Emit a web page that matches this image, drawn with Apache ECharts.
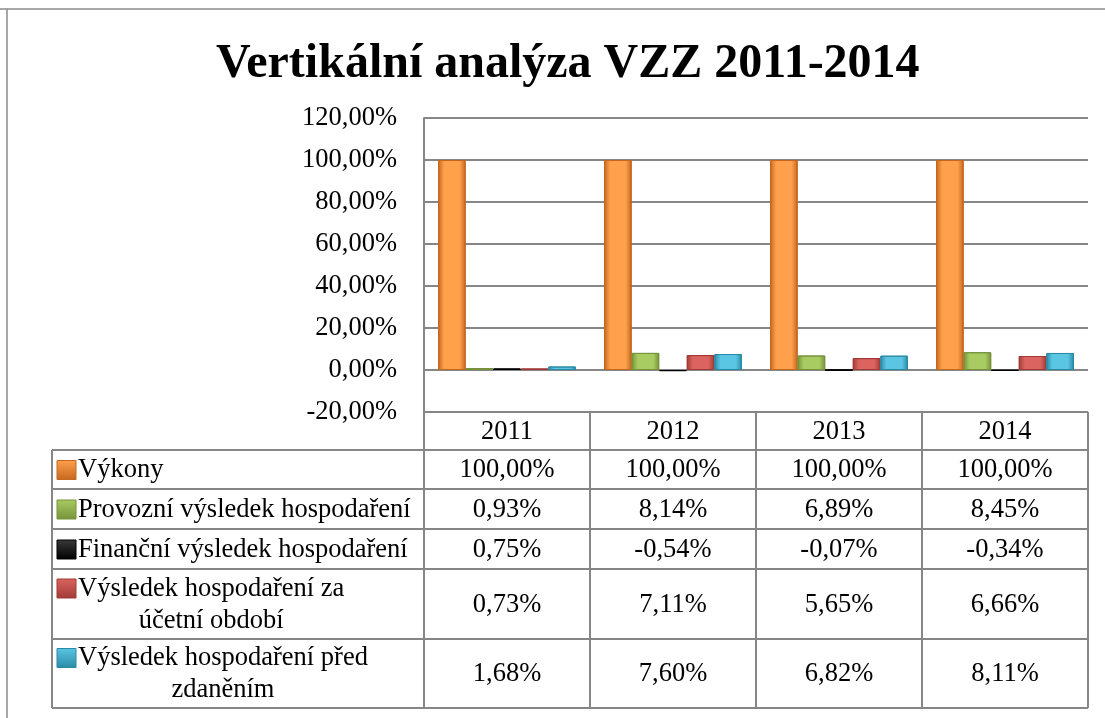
<!DOCTYPE html>
<html>
<head>
<meta charset="utf-8">
<script src="https://cdn.jsdelivr.net/npm/echarts@6/dist/echarts.min.js"></script>
<style>
	html, body { margin: 0; padding: 0; background: #fff; }
	#myChart { width: 1105px; height: 718px; }
</style>
</head>
<body>
<div id="myChart"></div>
<script>
// data
const years = ["2011", "2012", "2013", "2014"];
const seriesNames = [
	"Výkony",
	"Provozní výsledek hospodaření",
	"Finanční výsledek hospodaření",
	"Výsledek hospodaření za účetní období",
	"Výsledek hospodaření před zdaněním",
];
// how the names wrap in the data table
const rowLabels = [
	["Výkony"],
	["Provozní výsledek hospodaření"],
	["Finanční výsledek hospodaření"],
	["Výsledek hospodaření za", "účetní období"],
	["Výsledek hospodaření před", "zdaněním"],
];
const vykony = [100, 100, 100, 100];
const provozni = [0.93, 8.14, 6.89, 8.45];
const financni = [0.75, -0.54, -0.07, -0.34];
const vhObdobi = [0.73, 7.11, 5.65, 6.66];
const vhPredZdanenim = [1.68, 7.6, 6.82, 8.11];
const yMin = -20;
const yMax = 120;
const yStep = 20;

const values = [vykony, provozni, financni, vhObdobi, vhPredZdanenim];
// edge / middle colours for the bevelled bars
const colors = [
	["#c4681f", "#ffa04c"],
	["#76923a", "#a9cc62"],
	["#000000", "#3a3a3a"],
	["#a03a37", "#dc6460"],
	["#2b8aa6", "#5ac6e4"],
];

const fmt = (v) => v.toFixed(2).replace(".", ",") + "%";
const serif = "Liberation Serif";
const lineColor = "#868686";

// layout
const gridLeft = 424;
const gridRight = 1088;
const gridTop = 118;
const gridBottom = 412;
const tableLeft = 52;
const rowLines = [450, 489, 529, 569, 639, 708];

function bevel(c) {
	return new echarts.graphic.LinearGradient(0, 0, 1, 0, [
		{ offset: 0, color: c[0] },
		{ offset: 0.22, color: c[1] },
		{ offset: 0.78, color: c[1] },
		{ offset: 1, color: c[0] },
	]);
}

let myChart = echarts.init(document.getElementById("myChart"));

myChart.setOption({
	animation: false,
	title: {
		text: "Vertikální analýza VZZ 2011-2014",
		left: 211,
		top: 36,
		textStyle: {
			fontFamily: serif,
			fontWeight: "bold",
			fontSize: 48,
			color: "#000",
		},
	},
	grid: {
		left: gridLeft,
		right: 1105 - gridRight,
		top: gridTop,
		bottom: 718 - gridBottom,
		outerBoundsMode: "none",
	},
	xAxis: {
		type: "category",
		data: years,
		axisLine: { show: false },
		axisTick: { show: false },
		axisLabel: { show: false },
	},
	yAxis: {
		type: "value",
		min: yMin,
		max: yMax,
		interval: yStep,
		axisLine: { show: true, lineStyle: { color: lineColor, width: 2 } },
		axisTick: { show: false },
		axisLabel: {
			formatter: (v) => fmt(v),
			fontFamily: serif,
			fontSize: 26.5,
			color: "#000",
			margin: 27,
		},
		splitLine: { lineStyle: { color: lineColor, width: 2 } },
	},
	series: seriesNames.map((name, i) => ({
		name: name,
		type: "bar",
		data: values[i],
		barGap: "0%",
		barCategoryGap: "17%",
		itemStyle: {
			color: bevel(colors[i]),
			borderColor: colors[i][0],
			borderWidth: 1,
		},
		emphasis: { disabled: true },
	})),
});

// data table under the plot
const ctx = document.createElement("canvas").getContext("2d");
const font = "26.5px '" + serif + "'";
ctx.font = font;

const colW = (gridRight - gridLeft) / years.length;
const els = [];
const line = (x1, y1, x2, y2, color, w) =>
	els.push({
		type: "line",
		shape: { x1: x1, y1: y1, x2: x2, y2: y2 },
		style: { stroke: color || lineColor, lineWidth: w || 2 },
		silent: true,
	});
const text = (str, x, y, align) =>
	els.push({
		type: "text",
		style: {
			text: str,
			x: x,
			y: y,
			font: font,
			fill: "#000",
			textAlign: align || "center",
			textVerticalAlign: "middle",
		},
		silent: true,
	});

// chart frame
line(0, 9, 1105, 9, "#8a8a8a", 1.5);
line(7, 9, 7, 718, "#8a8a8a", 1.5);

// header row with years
line(gridLeft, gridBottom, gridRight, gridBottom);
years.forEach((y, j) => {
	const cx = myChart.convertToPixel({ xAxisIndex: 0 }, j);
	text(y, cx, (gridBottom + rowLines[0]) / 2 + 1);
});
for (let j = 0; j <= years.length; j++) {
	const x = gridLeft + j * colW;
	line(x, gridBottom, x, rowLines[rowLines.length - 1]);
}
rowLines.forEach((y) => line(tableLeft, y, gridRight, y));
line(tableLeft, rowLines[0], tableLeft, rowLines[rowLines.length - 1]);

// rows
rowLabels.forEach((lines, i) => {
	const top = rowLines[i];
	const bottom = rowLines[i + 1];
	const mid = (top + bottom) / 2;
	const lh = 32;
	const firstY = mid - ((lines.length - 1) * lh) / 2 + 1;
	const w = ctx.measureText(lines[0]).width;
	lines.forEach((l, k) => {
		text(l, 78 + w / 2, firstY + k * lh);
	});
	// legend key
	els.push({
		type: "rect",
		shape: { x: 57, y: firstY - 10, width: 19, height: 19 },
		style: {
			fill: new echarts.graphic.LinearGradient(0, 0, 0, 1, [
				{ offset: 0, color: colors[i][1] },
				{ offset: 1, color: colors[i][0] },
			]),
			stroke: colors[i][0],
			lineWidth: 1,
		},
		silent: true,
	});
	values[i].forEach((v, j) => {
		const cx = myChart.convertToPixel({ xAxisIndex: 0 }, j);
		text(fmt(v), cx, mid + 1);
	});
});

myChart.setOption({ graphic: { elements: els } });
</script>
</body>
</html>
